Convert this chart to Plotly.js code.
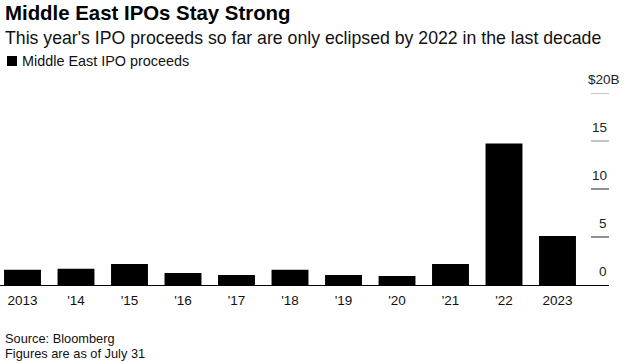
<!DOCTYPE html>
<html>
<head>
<meta charset="utf-8">
<script src="https://cdn.plot.ly/plotly-3.0.1.min.js"></script>
<style>
html,body{margin:0;padding:0;background:#fff;}
#chart{width:627px;height:364px;}
</style>
</head>
<body>
<div id="chart"></div>
<script>
var categories = ["2013","'14","'15","'16","'17","'18","'19","'20","'21","'22","2023"];
var proceeds = [1.6, 1.7, 2.2, 1.25, 1.05, 1.6, 1.05, 0.95, 2.2, 14.75, 5.1];
var yTickVals = [0, 5, 10, 15, 20];
var yTickText = ["0", "5", "10", "15", "$20B"];
var seriesName = "Middle East IPO proceeds";

var W = 627, H = 364;
var mL = 0, mR = 18, mT = 93, mB = 79;
var plotW = W - mL - mR, plotH = H - mT - mB;
function px(x){ return (x - mL) / plotW; }
function py(y){ return (H - mB - y) / plotH; }

var font = "'Liberation Sans', Arial, Helvetica, sans-serif";

var trace = {
  type: 'bar',
  x: categories.map(function(c, i){ return i; }),
  y: proceeds,
  name: seriesName,
  marker: {color: '#000000', line: {width: 0}},
  width: 0.69,
  hoverinfo: 'y'
};

var shapes = [];
var annotations = [];
var gridColors = {5: '#222222', 10: '#222222', 15: '#8a8a8a', 20: '#8a8a8a'};
yTickVals.forEach(function(v, i){
  if (v !== 0) {
    shapes.push({type: 'line', xref: 'paper', yref: 'y', x0: px(591), x1: 1, y0: v, y1: v,
      line: {color: gridColors[v], width: 1}});
  }
  annotations.push({xref: 'paper', yref: 'y', x: 1, y: v, xanchor: 'right', yanchor: 'bottom',
    text: yTickText[i], showarrow: false, yshift: 4, xshift: (i === yTickVals.length - 1) ? 13 : 0,
    font: {family: font, size: 13.5, color: '#222'}});
});

// legend key
shapes.push({type: 'rect', xref: 'paper', yref: 'paper', x0: px(7), x1: px(17), y0: py(66), y1: py(56),
  fillcolor: '#000', line: {width: 0}});
annotations.push({xref: 'paper', yref: 'paper', x: px(20), y: py(61), xanchor: 'left', yanchor: 'middle',
  text: seriesName, showarrow: false, font: {family: font, size: 14.4, color: '#111'}});

// title, subtitle
annotations.push({xref: 'paper', yref: 'paper', x: px(3), y: py(13), xanchor: 'left', yanchor: 'middle',
  text: '<b>Middle East IPOs Stay Strong</b>', showarrow: false, font: {family: font, size: 20.4, color: '#000'}});
annotations.push({xref: 'paper', yref: 'paper', x: px(3), y: py(38), xanchor: 'left', yanchor: 'middle',
  text: "This year's IPO proceeds so far are only eclipsed by 2022 in the last decade", showarrow: false,
  font: {family: font, size: 17.7, color: '#111'}});

// footer
annotations.push({xref: 'paper', yref: 'paper', x: px(3), y: py(338), xanchor: 'left', yanchor: 'middle',
  text: 'Source: Bloomberg', showarrow: false, font: {family: font, size: 12.8, color: '#111'}});
annotations.push({xref: 'paper', yref: 'paper', x: px(3), y: py(353), xanchor: 'left', yanchor: 'middle',
  text: 'Figures are as of July 31', showarrow: false, font: {family: font, size: 12.8, color: '#111'}});

var layout = {
  width: W, height: H,
  margin: {l: mL, r: mR, t: mT, b: mB, pad: 0},
  paper_bgcolor: '#fff', plot_bgcolor: '#fff',
  showlegend: false,
  xaxis: {
    range: [(0 - 22.5) / 53.5, (609 - 22.5) / 53.5],
    tickmode: 'array',
    tickvals: categories.map(function(c, i){ return i; }),
    ticktext: categories,
    showgrid: false, zeroline: false,
    showline: true, linecolor: '#000', linewidth: 1,
    ticks: 'outside', ticklen: 3, tickcolor: 'rgba(0,0,0,0)',
    tickfont: {family: font, size: 13.5, color: '#111'},
    fixedrange: true
  },
  yaxis: {
    range: [0, 20],
    showgrid: false, zeroline: false, showline: false,
    showticklabels: false, ticks: '',
    fixedrange: true
  },
  shapes: shapes,
  annotations: annotations
};

Plotly.newPlot('chart', [trace], layout, {displayModeBar: false, staticPlot: true});
</script>
</body>
</html>
